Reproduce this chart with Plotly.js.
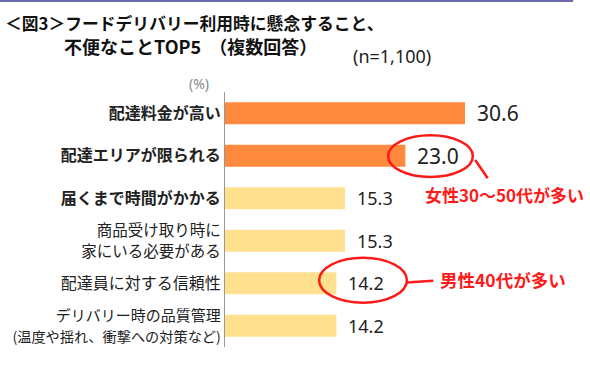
<!DOCTYPE html>
<html>
<head>
<meta charset="utf-8">
<script src="https://cdn.plot.ly/plotly-3.0.1.min.js"></script>
<style>html,body{margin:0;padding:0;background:#fff;}#chart{width:590px;height:370px;}</style>
</head>
<body>
<div id="chart"></div>
<script>
var categories = [
  "<b>配達料金が高い</b>",
  "<b>配達エリアが限られる</b>",
  "<b>届くまで時間がかかる</b>",
  "<span style='font-size:15.5px'>商品受け取り時に<br>家にいる必要がある</span>",
  "配達員に対する信頼性",
  "<span style='font-size:15px'>デリバリー時の品質管理<br><span style='font-size:14.2px'>(温度や揺れ、衝撃への対策など)</span></span>"
];
var values = [30.6, 23.0, 15.3, 15.3, 14.2, 14.2];
var valueLabels = ["30.6", "23.0", "15.3", "15.3", "14.2", "14.2"];
var barColors = ["#FF8A3D", "#FF8A3D", "#FFE08F", "#FFE08F", "#FFE08F", "#FFE08F"];
var labelSizes = [21, 21, 18, 18, 18, 18];

var FONT = "Noto Sans CJK JP, Noto Sans, sans-serif";

var trace = {
  type: "bar",
  orientation: "h",
  x: values,
  y: categories,
  marker: {color: barColors},
  width: 0.52,
  hoverinfo: "none"
};

var annotations = [];
for (var i = 0; i < values.length; i++) {
  annotations.push({
    x: values[i], y: categories[i], xref: "x", yref: "y",
    text: valueLabels[i], showarrow: false,
    xanchor: "left", yanchor: "middle", xshift: 10,
    font: {family: "Noto Sans, sans-serif", size: labelSizes[i], color: "#222"}
  });
}
annotations.push(
  {xref: "paper", yref: "paper", x: -0.617, y: 1.2725, xanchor: "left", yanchor: "middle",
   text: "<b>＜図3＞フードデリバリー利用時に懸念すること、</b>", showarrow: false,
   font: {family: FONT, size: 16.8, color: "#111"}},
  {xref: "paper", yref: "paper", x: -0.452, y: 1.180, xanchor: "left", yanchor: "middle",
   text: "<b>不便なことTOP5  （複数回答）</b>", showarrow: false,
   font: {family: FONT, size: 18, color: "#111"}},
  {xref: "paper", yref: "paper", x: 0.350, y: 1.140, xanchor: "left", yanchor: "middle",
   text: "(n=1,100)", showarrow: false,
   font: {family: "Noto Sans, sans-serif", size: 18, color: "#222"}},
  {xref: "paper", yref: "paper", x: -0.072, y: 1.035, xanchor: "center", yanchor: "middle",
   text: "(%)", showarrow: false,
   font: {family: "Noto Sans, sans-serif", size: 14, color: "#888"}},
  {xref: "x", yref: "y", x: 25.3, y: 1.9, xanchor: "left", yanchor: "middle",
   text: "<b>女性30～50代が多い</b>", showarrow: false,
   font: {family: FONT, size: 17, color: "#FF1A1A"}},
  {xref: "x", yref: "y", x: 27.1, y: 3.9, xanchor: "left", yanchor: "middle",
   text: "<b>男性40代が多い</b>", showarrow: false,
   font: {family: FONT, size: 17.5, color: "#FF1A1A"}}
);

var shapes = [
  {type: "line", xref: "paper", yref: "paper", x0: -0.625, x1: 0.967, y0: 1.357, y1: 1.357,
   line: {color: "#6e6aae", width: 2}},
  {type: "circle", xref: "x", yref: "y", x0: 20.8, x1: 31.6, y0: 0.52, y1: 1.50,
   line: {color: "#FF1A1A", width: 2.5}},
  {type: "line", xref: "x", yref: "y", x0: 31.9, x1: 33.5, y0: 1.10, y1: 1.53,
   line: {color: "#FF1A1A", width: 2.5}},
  {type: "circle", xref: "x", yref: "y", x0: 12.0, x1: 23.2, y0: 3.40, y1: 4.46,
   line: {color: "#FF1A1A", width: 2.5}},
  {type: "line", xref: "x", yref: "y", x0: 23.17, x1: 26.56, y0: 3.98, y1: 3.94,
   line: {color: "#FF1A1A", width: 2.5}}
];

var layout = {
  width: 590, height: 370,
  margin: {l: 225, r: 5, t: 92, b: 23},
  paper_bgcolor: "#fff", plot_bgcolor: "#fff",
  showlegend: false,
  xaxis: {range: [0, 45.9], visible: false, fixedrange: true},
  yaxis: {
    type: "category", autorange: "reversed",
    showline: true, linecolor: "#999", linewidth: 1,
    showgrid: false, zeroline: false, ticks: "",
    tickfont: {family: FONT, size: 16, color: "#222"},
    fixedrange: true
  },
  annotations: annotations,
  shapes: shapes
};

Plotly.newPlot("chart", [trace], layout, {displayModeBar: false, staticPlot: true});
</script>
</body>
</html>
